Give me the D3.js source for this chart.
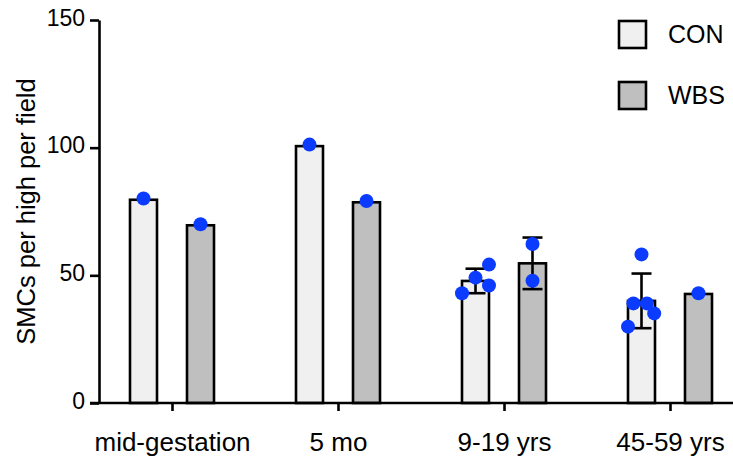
<!DOCTYPE html>
<html>
<head>
<meta charset="utf-8">
<script src="https://cdn.jsdelivr.net/npm/d3@7"></script>
<style>
  body { margin: 0; background: #fff; }
  text { font-family: "Liberation Sans", Arial, sans-serif; fill: #000; }
</style>
</head>
<body>
<svg id="chart" width="733" height="462"></svg>
<script>
// data
var categories = ["mid-gestation", "5 mo", "9-19 yrs", "45-59 yrs"];
var groups = ["CON", "WBS"];
var conMean = [79.6, 100.6, 47.8, 40.0];
var wbsMean = [69.6, 78.6, 54.7, 42.7];
var conSD = [null, null, 4.8, 10.7];
var wbsSD = [null, null, 10.1, null];
var conPoints = [[80.1], [101.2], [43.0, 49.1, 54.2, 46.0], [58.2, 39.0, 39.0, 35.1, 29.9]];
var wbsPoints = [[70.0], [79.1], [62.3, 47.9], [43.0]];
// horizontal scatter of points, in bar widths
var conJitter = [[0], [0], [-0.5, 0, 0.5, 0.5], [0, -0.3, 0.2, 0.47, -0.5]];
var wbsJitter = [[0], [0], [0, 0], [0]];
var yTicks = [0, 50, 100, 150];

var fills = {CON: "#f0f0f0", WBS: "#bfbfbf"};
var dotColor = "#0a3bff";

var svg = d3.select("#chart");

var x0= 99;    //y axis position
var yTop= 20;
var yBot= 403;
var barW= 27;
var capW= 20;

var y = d3.scaleLinear().domain([0, 150]).range([yBot, yTop]);
var x = d3.scalePoint().domain(categories).range([172, 670]);
var sub = d3.scalePoint().domain(groups).range([-28.5, 28.5]);

// flatten into one row per bar
var rows = [];
categories.forEach(function(c, i) {
    rows.push({cat: c, grp: "CON", mean: conMean[i], sd: conSD[i], pts: conPoints[i], jit: conJitter[i]});
    rows.push({cat: c, grp: "WBS", mean: wbsMean[i], sd: wbsSD[i], pts: wbsPoints[i], jit: wbsJitter[i]});
});
function cx(d) { return x(d.cat) + sub(d.grp); }

// bars
svg.append("g").selectAll("rect")
    .data(rows)
    .enter()
    .append("rect")
    .attr("x", function(d) { return cx(d) - barW / 2; })
    .attr("y", function(d) { return y(d.mean); })
    .attr("width", barW)
    .attr("height", function(d) { return yBot - y(d.mean); })
    .attr("fill", function(d) { return fills[d.grp]; })
    .attr("stroke", "#000")
    .attr("stroke-width", 2.6);

// error bars (mean +/- SD)
var eb = svg.append("g").selectAll("g")
    .data(rows.filter(function(d) { return d.sd != null; }))
    .enter()
    .append("g")
    .attr("stroke", "#000")
    .attr("stroke-width", 2.6);
eb.append("line")
    .attr("x1", cx).attr("x2", cx)
    .attr("y1", function(d) { return y(d.mean - d.sd); })
    .attr("y2", function(d) { return y(d.mean + d.sd); });
eb.append("line")
    .attr("x1", function(d) { return cx(d) - capW / 2; })
    .attr("x2", function(d) { return cx(d) + capW / 2; })
    .attr("y1", function(d) { return y(d.mean + d.sd); })
    .attr("y2", function(d) { return y(d.mean + d.sd); });
eb.append("line")
    .attr("x1", function(d) { return cx(d) - capW / 2; })
    .attr("x2", function(d) { return cx(d) + capW / 2; })
    .attr("y1", function(d) { return y(d.mean - d.sd); })
    .attr("y2", function(d) { return y(d.mean - d.sd); });

// individual points
var pts = [];
rows.forEach(function(d) {
    d.pts.forEach(function(v, k) {
        pts.push({x: cx(d) + d.jit[k] * barW, v: v});
    });
});
svg.append("g").selectAll("circle")
    .data(pts)
    .enter()
    .append("circle")
    .attr("cx", function(d) { return d.x; })
    .attr("cy", function(d) { return y(d.v); })
    .attr("r", 7)
    .attr("fill", dotColor);

// y axis
var yAxis = svg.append("g")
    .attr("transform", "translate(" + x0 + ",0)")
    .call(d3.axisLeft(y).tickValues(yTicks).tickSize(9).tickSizeOuter(0).tickPadding(5));
yAxis.selectAll("path, line").attr("stroke", "#000").attr("stroke-width", 2.6);
yAxis.selectAll("text").attr("font-size", 23).attr("dy", "0.22em")
    .style("font-family", "'Liberation Sans', Arial, sans-serif");

// x axis
var xAxis = svg.append("g")
    .attr("transform", "translate(0," + yBot + ")")
    .call(d3.axisBottom(x).tickSize(8).tickPadding(22));
xAxis.select(".domain").remove();
xAxis.append("line")
    .attr("x1", x0 - 9).attr("x2", 733)
    .attr("y1", 0).attr("y2", 0);
xAxis.selectAll("line").attr("stroke", "#000").attr("stroke-width", 2.6);
xAxis.selectAll("text").attr("font-size", 26)
    .style("font-family", "'Liberation Sans', Arial, sans-serif");

// y label
svg.append("text")
    .attr("transform", "translate(35," + (yTop + yBot) / 2 + ") rotate(-90)")
    .attr("text-anchor", "middle")
    .attr("font-size", 25.5)
    .text("SMCs per high per field");

// legend
var legend = svg.append("g").selectAll("g")
    .data(groups)
    .enter()
    .append("g")
    .attr("transform", function(d, i) { return "translate(619," + (21 + i * 61) + ")"; });
legend.append("rect")
    .attr("width", 27).attr("height", 27)
    .attr("fill", function(d) { return fills[d]; })
    .attr("stroke", "#000")
    .attr("stroke-width", 2.6);
legend.append("text")
    .attr("x", 49).attr("y", 22)
    .attr("font-size", 25)
    .text(function(d) { return d; });
</script>
</body>
</html>
